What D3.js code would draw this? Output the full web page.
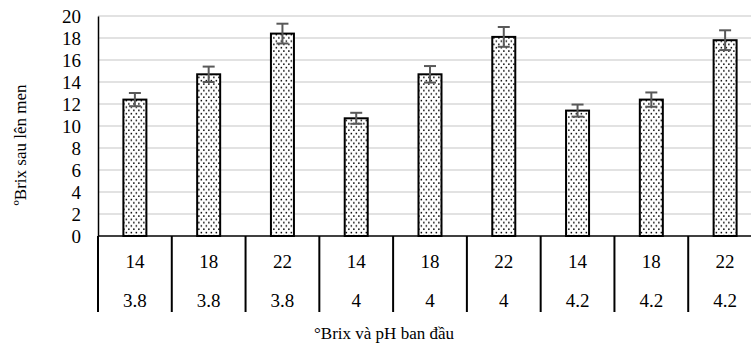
<!DOCTYPE html>
<html>
<head>
<meta charset="utf-8">
<script src="https://cdn.jsdelivr.net/npm/d3@7/dist/d3.min.js"></script>
<style>
  html, body { margin: 0; padding: 0; background: #fff; }
  svg { display: block; }
  text { font-family: "Liberation Serif", "Times New Roman", serif; fill: #000; }
</style>
</head>
<body>
<svg id="chart" width="751" height="348"></svg>
<script>
// Initial Brix (top label row) and initial pH (bottom label row)
const brixLabels = ["14", "18", "22", "14", "18", "22", "14", "18", "22"];
const phLabels   = ["3.8", "3.8", "3.8", "4", "4", "4", "4.2", "4.2", "4.2"];
// Brix after fermentation and its standard deviation
const brixAfter  = [12.4, 14.7, 18.4, 10.7, 14.7, 18.1, 11.4, 12.4, 17.8];
const brixErr    = [0.6, 0.7, 0.9, 0.5, 0.75, 0.9, 0.55, 0.65, 0.9];
const yTicks     = [0, 2, 4, 6, 8, 10, 12, 14, 16, 18, 20];

const svg = d3.select("#chart");
const plotLeft = 98, plotRight = 762, plotTop = 16, plotBottom = 236;
const labelSize = "19px";
const titleSize = "17px";

const x = d3.scaleBand()
  .domain(d3.range(brixAfter.length))
  .range([plotLeft, plotRight])
  .paddingInner(0).paddingOuter(0);

const y = d3.scaleLinear().domain([0, 20]).range([plotBottom, plotTop]);

// dotted fill for bars
const defs = svg.append("defs");
const pat = defs.append("pattern")
  .attr("id", "dots")
  .attr("patternUnits", "userSpaceOnUse")
  .attr("width", 5).attr("height", 6.6);
pat.append("rect").attr("width", 5).attr("height", 6.6).attr("fill", "#fff");
pat.append("rect").attr("x", 0.6).attr("y", 0.8).attr("width", 1.5).attr("height", 1.5).attr("fill", "#000");
pat.append("rect").attr("x", 3.1).attr("y", 4.1).attr("width", 1.5).attr("height", 1.5).attr("fill", "#000");

// horizontal gridlines
svg.append("g")
  .selectAll("line")
  .data(yTicks.filter(d => d > 0))
  .join("line")
  .attr("x1", plotLeft).attr("x2", 751)
  .attr("y1", d => y(d)).attr("y2", d => y(d))
  .attr("stroke", "#d9d9d9").attr("stroke-width", 1.5);

// y axis
const yAxis = d3.axisLeft(y).tickValues(yTicks).tickSize(0).tickPadding(17);
const gy = svg.append("g").attr("transform", `translate(${plotLeft},0)`).call(yAxis);
gy.attr("font-family", null).attr("font-size", null);
gy.select(".domain").attr("stroke", "#000").attr("stroke-width", 1.5);
gy.selectAll("text")
  .style("font-family", "'Liberation Serif', serif")
  .style("font-size", labelSize)
  .attr("fill", "#000");

// bars
const barW = 23;
svg.append("g")
  .selectAll("rect")
  .data(brixAfter)
  .join("rect")
  .attr("x", (d, i) => x(i) + x.bandwidth() / 2 - barW / 2)
  .attr("y", d => y(d))
  .attr("width", barW)
  .attr("height", d => plotBottom - y(d))
  .attr("fill", "url(#dots)")
  .attr("stroke", "#000")
  .attr("stroke-width", 2);

// error bars
const eg = svg.append("g").attr("stroke", "#595959").attr("stroke-width", 2);
brixAfter.forEach((v, i) => {
  const cx = x(i) + x.bandwidth() / 2;
  const hi = y(v + brixErr[i]), lo = y(v - brixErr[i]);
  eg.append("line").attr("x1", cx).attr("x2", cx).attr("y1", hi).attr("y2", lo);
  eg.append("line").attr("x1", cx - 6).attr("x2", cx + 6).attr("y1", hi).attr("y2", hi);
  eg.append("line").attr("x1", cx - 6).attr("x2", cx + 6).attr("y1", lo).attr("y2", lo);
});

// baseline
svg.append("line")
  .attr("x1", plotLeft).attr("x2", 751)
  .attr("y1", plotBottom).attr("y2", plotBottom)
  .attr("stroke", "#000").attr("stroke-width", 1.5);

// category table: dividers and two label rows
const tableBottom = 312;
const dividers = d3.range(brixAfter.length + 1).map(i => i < brixAfter.length ? x(i) : plotRight);
svg.append("g")
  .selectAll("line")
  .data(dividers)
  .join("line")
  .attr("x1", d => d).attr("x2", d => d)
  .attr("y1", plotBottom).attr("y2", tableBottom)
  .attr("stroke", "#000").attr("stroke-width", 2);

svg.append("g")
  .selectAll("text")
  .data(brixLabels)
  .join("text")
  .attr("x", (d, i) => x(i) + x.bandwidth() / 2)
  .attr("y", 268)
  .attr("text-anchor", "middle")
  .style("font-size", labelSize)
  .text(d => d);

svg.append("g")
  .selectAll("text")
  .data(phLabels)
  .join("text")
  .attr("x", (d, i) => x(i) + x.bandwidth() / 2)
  .attr("y", 307)
  .attr("text-anchor", "middle")
  .style("font-size", labelSize)
  .text(d => d);

// axis titles
svg.append("text")
  .attr("x", 384).attr("y", 339)
  .attr("text-anchor", "middle")
  .style("font-size", titleSize)
  .text("°Brix và pH ban đầu");

svg.append("text")
  .attr("transform", "translate(26,145) rotate(-90)")
  .attr("text-anchor", "middle")
  .style("font-size", titleSize)
  .text("ºBrix sau lên men");
</script>
</body>
</html>
